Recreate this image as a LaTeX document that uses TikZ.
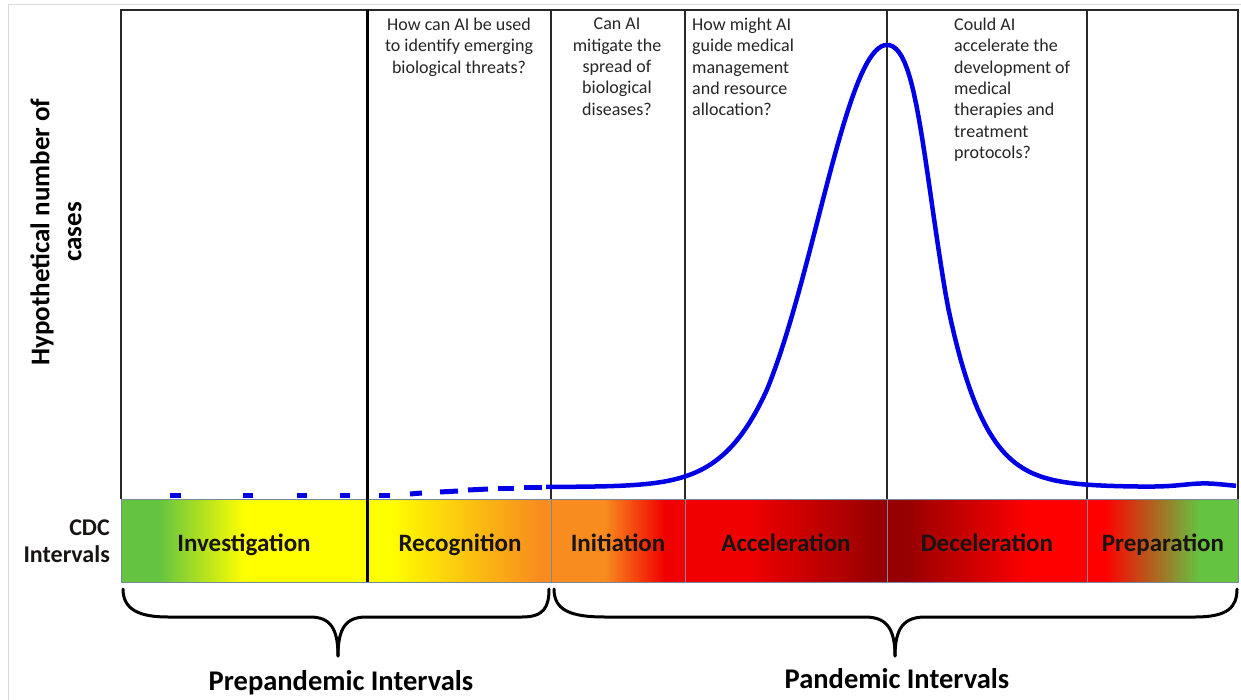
\documentclass[tikz,border=0pt]{standalone}
\usepackage{fontspec}
\setmainfont{Carlito}
\definecolor{cgreen}{RGB}{100,196,64}
\definecolor{cyellow}{RGB}{255,255,0}
\definecolor{corange}{RGB}{248,140,30}
\definecolor{cred}{RGB}{240,0,0}
\definecolor{cdark}{RGB}{150,0,0}
\definecolor{cbrown}{RGB}{190,130,50}
\definecolor{cblue}{RGB}{0,0,230}
\definecolor{cgrid}{RGB}{40,40,40}
\definecolor{cbarline}{RGB}{120,135,160}
\definecolor{ctext}{RGB}{25,20,20}
\begin{document}
\begin{tikzpicture}[x=1pt,y=-1pt,
  declare function={
    sl(\d)=0.69+0.06*max(\d-1.2,0);
    sr(\d)=0.45+0.24*exp(-1*((\d/0.3)^2))+0.12*max(\d-0.6,0);
    fl(\t)=487-442*exp(-1*(((887-\t)/100)^2)/(2*sl((887-\t)/100)^2));
    fr(\t)=487-442*exp(-1*(((\t-887)/100)^2)/(2*sr((\t-887)/100)^2))-3.5*exp(-1*(((\t-1205)/30)^2));
  },
  question/.style={inner sep=0pt,anchor=north,font=\fontsize{18}{21.3}\selectfont,text=black!85},
  barlabel/.style={inner sep=0pt,anchor=base,font=\fontsize{25}{27}\selectfont\bfseries,text=ctext},
  sidelabel/.style={inner sep=0pt,font=\fontsize{27}{32}\selectfont\bfseries,text=black},
  grouplabel/.style={inner sep=0pt,anchor=base,font=\fontsize{28.5}{32}\selectfont\bfseries,text=black},
  grpline/.style={line width=2pt,cgrid},
  bracestyle/.style={line width=3pt,black,line cap=round},
  curvestyle/.style={line width=4.5pt,cblue}]
\useasboundingbox (0,0) rectangle (1241,700);
\fill[white] (0,0) rectangle (1241,700);
\draw[black!15,line width=0.8pt] (8,700) -- (8,4) -- (1241,4);
% ---- colour bar ----
\fill[cgreen] (121,499) rectangle (160,582);
\shade[left color=cgreen,right color=cyellow] (159.5,499) rectangle (245,582);
\fill[cyellow] (244.5,499) rectangle (367,582);
\fill[cyellow] (367,499) rectangle (390,582);
\shade[left color=cyellow,right color=corange] (389.5,499) rectangle (540,582);
\fill[corange] (539.5,499) rectangle (551,582);
\fill[corange] (551,499) rectangle (605,582);
\shade[left color=corange,right color=cred] (604.5,499) rectangle (665,582);
\fill[cred] (664.5,499) rectangle (685,582);
\fill[cred] (685,499) rectangle (750,582);
\shade[left color=cred,right color=cdark] (749.5,499) rectangle (880,582);
\fill[cdark] (879.5,499) rectangle (887,582);
\fill[cdark] (887,499) rectangle (905,582);
\shade[left color=cdark,right color=red] (904.5,499) rectangle (1030,582);
\fill[red] (1029.5,499) rectangle (1087,582);
\fill[red] (1087,499) rectangle (1105,582);
\shade[left color=red,middle color=cbrown,right color=cgreen] (1104.5,499) rectangle (1200,582);
\fill[cgreen] (1199.5,499) rectangle (1238,582);
\draw[cbarline,line width=1pt] (121,499) rectangle (1238,582);
\foreach \xx in {551,685,887,1087}{\draw[cbarline,line width=1pt] (\xx,499) -- (\xx,582);}
% ---- chart frame ----
\draw[grpline] (121,499) -- (121,10) -- (1238,10) -- (1238,499);
\draw[line width=3pt,black] (367,10) -- (367,582);
\draw[line width=1.6pt,cgrid] (551,10) -- (551,499);
\draw[line width=2.4pt,cgrid] (685,10) -- (685,499);
\draw[line width=2pt,cgrid] (887,10) -- (887,499);
\draw[line width=2pt,cgrid] (1087,10) -- (1087,499);
% ---- labels in bar ----
\node[barlabel] (inv) at (244,551) {Investigation};
\node[barlabel] (rec) at (460,551) {Recognition};
\node[barlabel] (ini) at (618,551) {Initiation};
\node[barlabel] (acc) at (786,551) {Acceleration};
\node[barlabel] (dec) at (987,551) {Deceleration};
\node[barlabel] (pre) at (1163,551) {Preparation};
% ---- side labels ----
\node[sidelabel,rotate=90,align=center] (ylab) at (56,232) {Hypothetical number of\\cases};
\node[inner sep=0pt,align=right,anchor=east,text=ctext,font=\fontsize{24}{27}\selectfont\bfseries] (cdc) at (110,541) {CDC\\Intervals};
% ---- questions ----
\node[question,align=center] (q1) at (459,18) {How can AI be used\\to identify emerging\\biological threats?};
\node[question,align=center] (q2) at (617,18) {Can AI\\mitigate the\\spread of\\biological\\diseases?};
\node[question,align=left,anchor=north west] (q3) at (692,18) {How might AI\\guide medical\\management\\and resource\\allocation?};
\node[question,align=left,anchor=north west] (q4) at (954,18) {Could AI\\accelerate the\\development of\\medical\\therapies and\\treatment\\protocols?};
% ---- curve ----
\foreach \a/\b/\ya/\yb in {170/181/495/495,243/253/495/495,297/307/495/495,340/350/495/495,379/390/495/495,410/422/494/493,440/458/492/491,468/488/490/489,498/514/488/488,524/542/487/487}{
  \draw[line width=5pt,cblue] (\a,\ya) -- (\b,\yb);}
\draw[curvestyle,line join=round] plot[domain=546:887,samples=120] (\x,{fl(\x)}) -- plot[domain=887:1236,samples=120] (\x,{fr(\x)});
% ---- braces ----
\coordinate (b1l) at (123,589);
\coordinate (b1t) at (338,656);
\coordinate (b1r) at (549,589);
\coordinate (b2l) at (554,589);
\coordinate (b2t) at (895,656);
\coordinate (b2r) at (1237,589);
\draw[bracestyle] (b1l) .. controls (123,610) and (140,617) .. (168,617) -- (310,617) .. controls (330,617) and (338,628) .. (b1t);
\draw[bracestyle] (b1t) .. controls (338,628) and (346,617) .. (366,617) -- (522,617) .. controls (544,617) and (549,607) .. (b1r);
\draw[bracestyle] (b2l) .. controls (554,610) and (570,617) .. (605,617) -- (865,617) .. controls (886,617) and (895,628) .. (b2t);
\draw[bracestyle] (b2t) .. controls (895,628) and (904,617) .. (925,617) -- (1195,617) .. controls (1228,617) and (1237,607) .. (b2r);
\node[grouplabel] (prep) at (341,690) {Prepandemic Intervals};
\node[grouplabel] (pand) at (897,688) {Pandemic Intervals};
\end{tikzpicture}
\end{document}
